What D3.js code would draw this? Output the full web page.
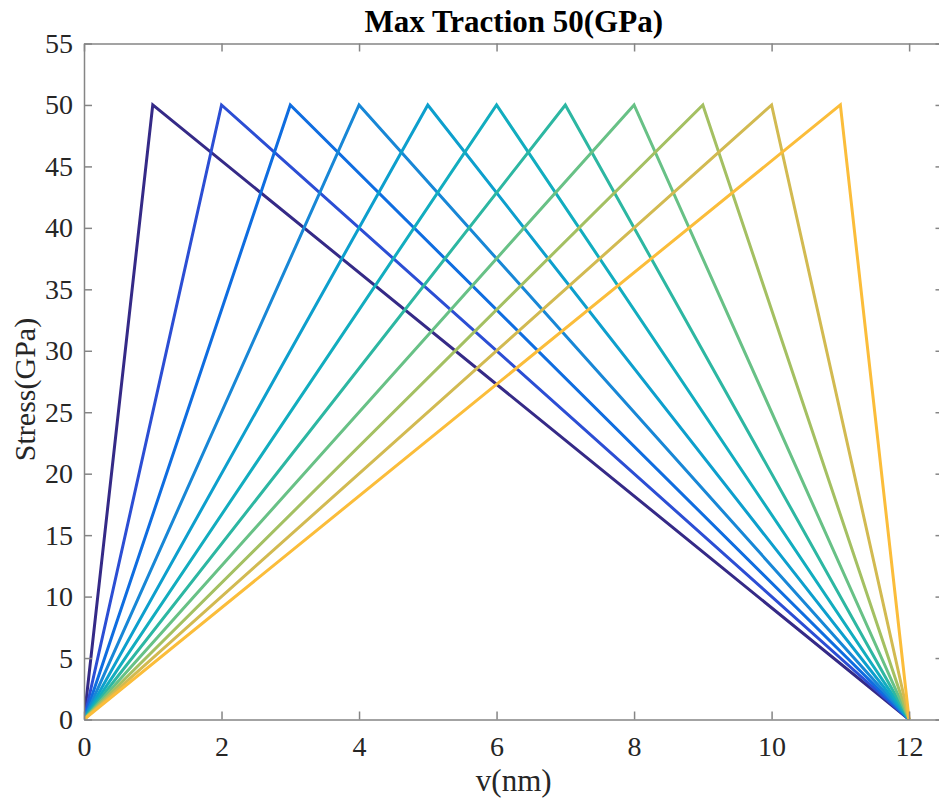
<!DOCTYPE html>
<html>
<head>
<meta charset="utf-8">
<script src="https://cdn.jsdelivr.net/npm/d3@7"></script>
<style>
  body { margin: 0; background: #fff; }
  svg text { font-family: "Liberation Serif", "Times New Roman", serif; fill: #262626; }
</style>
</head>
<body>
<div id="chart"></div>
<script>
// peak displacement of each curve (nm), peak stress and final displacement
const peakDisplacements = [1, 2, 3, 4, 5, 6, 7, 8, 9, 10, 11];
const maxTraction = 50;
const finalDisplacement = 12;
const lineColors = ["#352a87", "#2c4ed4", "#0f6de0", "#1887d6", "#0d9fcd", "#12adbf",
                    "#2db7a2", "#68c186", "#a4c062", "#d2ba51", "#fbbd3a"];
const xTicks = [0, 2, 4, 6, 8, 10, 12];
const yTicks = [0, 5, 10, 15, 20, 25, 30, 35, 40, 45, 50, 55];

const WIDTH = 939;
const HEIGHT = 803;
const LEFT = 84;
const TOP = 43.5;
const BOTTOM = 719.5;
const RIGHT = 943.5;   // right edge of the box falls just outside the picture
const TICK_LEN = 8;

const svg = d3.select("#chart")
    .append("svg")
    .attr("width", WIDTH)
    .attr("height", HEIGHT);

const x = d3.scaleLinear().domain([0, 12.5]).range([LEFT, RIGHT]);
const y = d3.scaleLinear().domain([0, 55]).range([BOTTOM, TOP]);

svg.append("clipPath").attr("id", "plot-clip")
    .append("rect")
    .attr("x", LEFT).attr("y", TOP)
    .attr("width", RIGHT - LEFT).attr("height", BOTTOM - TOP);

// curves: 0 -> peak -> final displacement
const line = d3.line().x(d => x(d[0])).y(d => y(d[1]));
svg.append("g")
    .attr("clip-path", "url(#plot-clip)")
    .selectAll("path")
    .data(peakDisplacements)
    .join("path")
    .attr("d", p => line([[0, 0], [p, maxTraction], [finalDisplacement, 0]]))
    .attr("fill", "none")
    .attr("stroke", (p, i) => lineColors[i])
    .attr("stroke-width", 3)
    .attr("stroke-linejoin", "miter");

// axes box, ticks pointing inward like MATLAB
const axisColor = "#858585";
const bottomAxis = svg.append("g")
    .attr("transform", `translate(0,${BOTTOM})`)
    .call(d3.axisBottom(x).tickValues(xTicks).tickSizeInner(-TICK_LEN).tickSizeOuter(0).tickPadding(17));
const topAxis = svg.append("g")
    .attr("transform", `translate(0,${TOP})`)
    .call(d3.axisTop(x).tickValues(xTicks).tickSizeInner(-TICK_LEN).tickSizeOuter(0).tickFormat(""));
const leftAxis = svg.append("g")
    .attr("transform", `translate(${LEFT},0)`)
    .call(d3.axisLeft(y).tickValues(yTicks).tickSizeInner(-TICK_LEN).tickSizeOuter(0).tickPadding(11));
const rightAxis = svg.append("g")
    .attr("transform", `translate(${RIGHT},0)`)
    .call(d3.axisRight(y).tickValues(yTicks).tickSizeInner(-TICK_LEN).tickSizeOuter(0).tickFormat(""));

[bottomAxis, topAxis, leftAxis, rightAxis].forEach(g => {
    g.select(".domain").attr("stroke", axisColor).attr("stroke-width", 1.5);
    g.selectAll(".tick line").attr("stroke", axisColor).attr("stroke-width", 1.5);
    g.selectAll("text")
        .attr("fill", "#262626")
        .style("font-size", "28px")
        .style("font-family", "'Liberation Serif', serif");
});

// title and axis labels
svg.append("text")
    .attr("x", (LEFT + RIGHT) / 2)
    .attr("y", 32)
    .attr("text-anchor", "middle")
    .style("font-size", "31px")
    .style("font-weight", "bold")
    .style("fill", "#000")
    .text("Max Traction 50(GPa)");

svg.append("text")
    .attr("x", (LEFT + RIGHT) / 2)
    .attr("y", 791)
    .attr("text-anchor", "middle")
    .style("font-size", "31px")
    .text("v(nm)");

svg.append("text")
    .attr("transform", `translate(35,${(TOP + BOTTOM) / 2 + 8}) rotate(-90)`)
    .attr("text-anchor", "middle")
    .style("font-size", "30px")
    .text("Stress(GPa)");
</script>
</body>
</html>
